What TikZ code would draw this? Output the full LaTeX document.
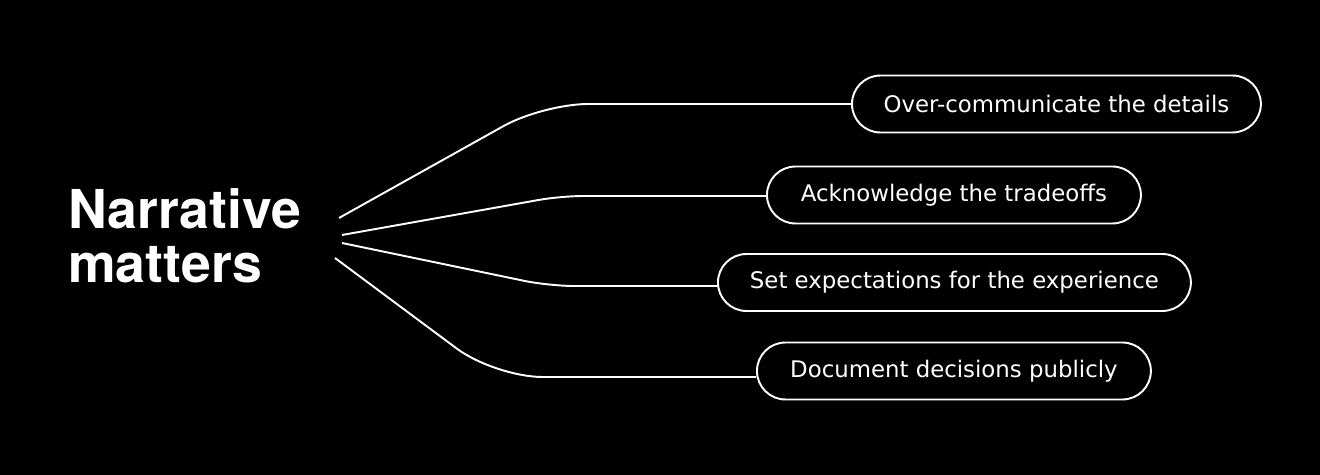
\documentclass[tikz,border=0pt]{standalone}
\usepackage{fontspec}
\setmainfont{TeX Gyre Heros}
\newfontfamily\pillfont{DejaVu Sans}
\usetikzlibrary{positioning, shapes.misc}

\tikzset{
  headline/.style={text=white, inner sep=0pt, anchor=base west, font=\fontsize{30.5}{34}\selectfont\bfseries},
  pill/.style={draw=white, line width=1.1pt, rounded rectangle, minimum height=1.14cm,
    inner sep=0pt, anchor=west, text=white, font=\pillfont\fontsize{13}{16}\selectfont},
  branch/.style={draw=white, line width=1.1pt},
}

\begin{document}
\begin{tikzpicture}[x=0.02cm, y=-0.02cm]
  % background and picture frame (1 unit = 1 px of the 1320x475 layout)
  \fill[black] (0,0) rectangle (1320,475);
  \useasboundingbox (0,0) rectangle (1320,475);
  % Title, two lines
  \node[headline] (tA) at (68,229) {Narrative};
  \node[headline] (tB) at (68,283) {matters};
  % Pills: left edge x, centre y
  \node[pill, minimum width=8.18cm] (p1) at (851,104) {Over-communicate the details};
  \node[pill, minimum width=7.48cm] (p2) at (766,195) {Acknowledge the tradeoffs};
  \node[pill, minimum width=9.46cm] (p3) at (717,282.5) {Set expectations for the experience};
  \node[pill, minimum width=7.88cm] (p4) at (756,371) {Document decisions publicly};
  % Branch start points and bends
  \coordinate (s1) at (339,218); \coordinate (k1) at (543,104);
  \coordinate (s2) at (342,235); \coordinate (k2) at (561,196);
  \coordinate (s3) at (342,243); \coordinate (k3) at (549,286);
  \coordinate (s4) at (335,258); \coordinate (k4) at (495,377);
  % Branches
  \draw[branch, rounded corners=0.9cm] (s1) -- (k1) -- (k1 -| p1.west);
  \draw[branch, rounded corners=0.45cm] (s2) -- (k2) -- (k2 -| p2.west);
  \draw[branch, rounded corners=0.5cm] (s3) -- (k3) -- (k3 -| p3.west);
  \draw[branch, rounded corners=0.95cm] (s4) -- (k4) -- (k4 -| p4.west);
\end{tikzpicture}
\end{document}
